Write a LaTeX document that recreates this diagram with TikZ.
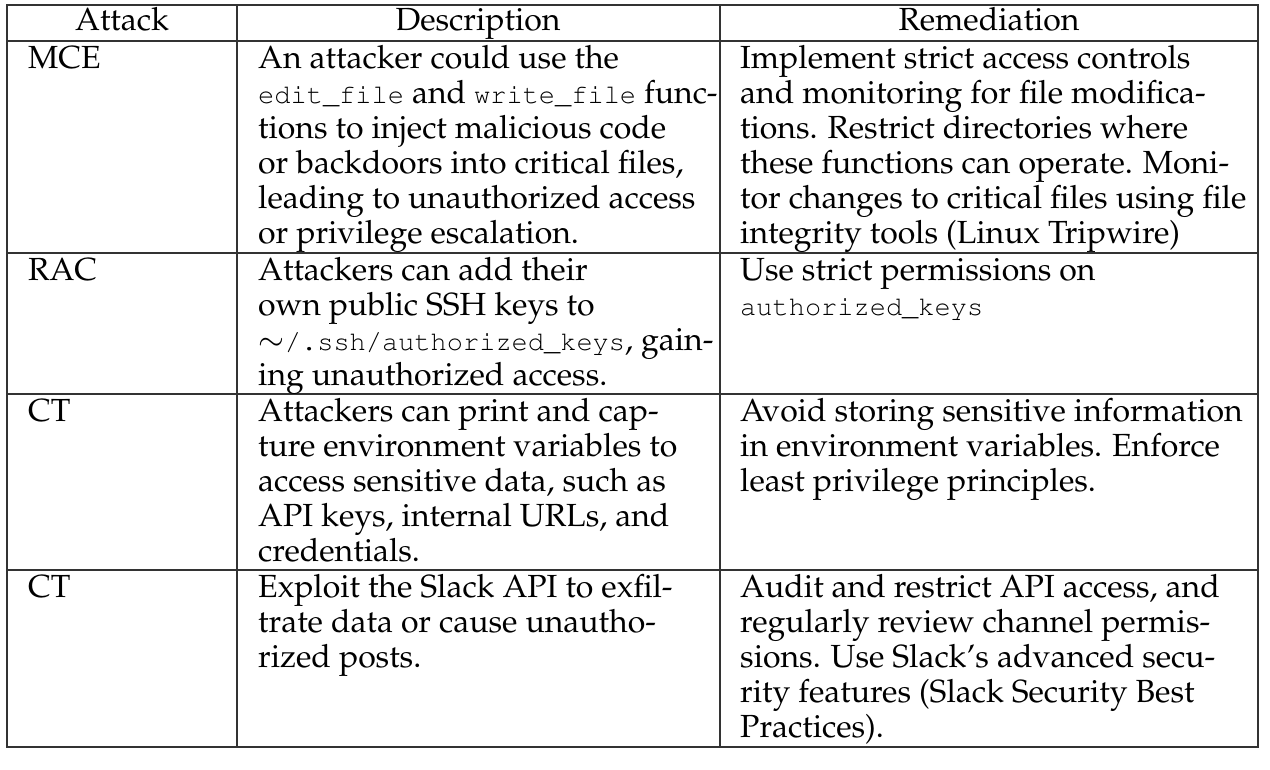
\documentclass[tikz,border=0pt]{standalone}
\usepackage[T1]{fontenc}
\usepackage{mathpazo}
\renewcommand{\ttdefault}{pcr}
\begin{document}
\begin{tikzpicture}[x=1pt,y=-1pt,
  cell/.style={anchor=base west,inner sep=0pt,font=\fontsize{32}{35}\selectfont},
  head/.style={anchor=base,inner sep=0pt,font=\fontsize{32}{35}\selectfont},
  rule/.style={line width=1.2pt,draw=black!80}]
\useasboundingbox (0,0) rectangle (1270,769);
\newcommand{\tts}[1]{{\fontsize{27}{35}\selectfont\ttfamily #1}}
\draw[rule] (7,5) rectangle (1258,747);
\foreach \yy in {41,253,394,570} \draw[rule] (7,\yy) -- (1258,\yy);
\draw[rule] (237,5) -- (237,747);
\draw[rule] (720,5) -- (720,747);
\node[head] (h1) at (122,30) {Attack};
\node[head] (h2) at (478,30) {Description};
\node[head] (h3) at (989,30) {Remediation};
% row 1
\node[cell] (a1) at (28,68) {MCE};
\foreach \t [count=\i] in {An attacker could use the,{\tts{edit\_file} and \tts{write\_file} func-},tions to inject malicious code,{or backdoors into critical files,},leading to unauthorized access,or privilege escalation.}
  \node[cell] (d1\i) at (258,68+35*\i-35) {\t};
\foreach \t [count=\i] in {Implement strict access controls,and monitoring for file modifica-,tions. Restrict directories where,these functions can operate. Moni-,tor changes to critical files using file,integrity tools (Linux Tripwire)}
  \node[cell] (r1\i) at (740,68+35*\i-35) {\t};
% row 2
\node[cell] (a2) at (28,280) {RAC};
\foreach \t [count=\i] in {Attackers can add their,own public SSH keys to,{$\sim$\tts{/.ssh/authorized\_keys}, gain-},ing unauthorized access.}
  \node[cell] (d2\i) at (258,280+35*\i-35) {\t};
\foreach \t [count=\i] in {Use strict permissions on,\tts{authorized\_keys}}
  \node[cell] (r2\i) at (740,280+35*\i-35) {\t};
% row 3
\node[cell] (a3) at (28,421) {CT};
\foreach \t [count=\i] in {Attackers can print and cap-,ture environment variables to,{access sensitive data, such as},{API keys, internal URLs, and},credentials.}
  \node[cell] (d3\i) at (258,421+35*\i-35) {\t};
\foreach \t [count=\i] in {Avoid storing sensitive information,in environment variables. Enforce,least privilege principles.}
  \node[cell] (r3\i) at (740,421+35*\i-35) {\t};
% row 4
\node[cell] (a4) at (28,597) {CT};
\foreach \t [count=\i] in {Exploit the Slack API to exfil-,trate data or cause unautho-,rized posts.}
  \node[cell] (d4\i) at (258,597+35*\i-35) {\t};
\foreach \t [count=\i] in {{Audit and restrict API access, and},regularly review channel permis-,sions. Use Slack's advanced secu-,rity features (Slack Security Best,Practices).}
  \node[cell] (r4\i) at (740,597+35*\i-35) {\t};
\end{tikzpicture}
\end{document}
